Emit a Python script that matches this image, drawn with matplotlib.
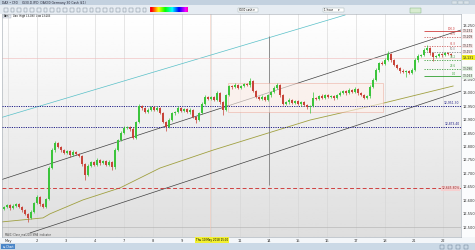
import matplotlib.pyplot as plt
from matplotlib.patches import Rectangle
import numpy as np

# hourly candles, Germany 30 cash
closes = [12575, 12582, 12571, 12578, 12586, 12575, 12563, 12549, 12534, 12556,
          12590, 12612, 12586, 12575, 12604, 12720, 12787, 12813, 12799, 12787,
          12776, 12784, 12769, 12780, 12772, 12765, 12735, 12694, 12728, 12743,
          12731, 12750, 12739, 12746, 12731, 12743, 12724, 12787, 12825, 12851,
          12869, 12873, 12866, 12832, 12892, 12951, 12944, 12929, 12937, 12948,
          12937, 12944, 12925, 12892, 12873, 12899, 12925, 12929, 12944, 12933,
          12940, 12929, 12937, 12910, 12899, 12925, 12959, 12985, 12978, 12985,
          12974, 13000, 12966, 12937, 12992, 13026, 13022, 13030, 13019, 13026,
          13034, 13030, 13045, 13007, 12985, 12978, 12985, 12974, 12992, 13004,
          13019, 13030, 12992, 12959, 12966, 12974, 12963, 12970, 12959, 12966,
          12955, 12948, 12951, 12981, 12978, 12989, 12981, 12992, 12985, 12989,
          12981, 12992, 13000, 13007, 13000, 13011, 13004, 13015, 13000, 12992,
          12981, 12989, 13022, 13048, 13086, 13112, 13108, 13123, 13145, 13123,
          13104, 13093, 13082, 13078, 13082, 13075, 13086, 13123, 13138, 13142,
          13160, 13168, 13149, 13134, 13138, 13145, 13142, 13149, 13145, 13142]
first_open = 12568
up_wick = [4, 5, 3, 6, 4, 5, 3, 4, 5, 6, 5, 6, 4, 3, 5, 8, 6, 7, 4, 5,
           4, 5, 3, 6, 4, 5, 3, 4, 6, 5, 4, 6, 3, 5, 4, 6, 5, 6, 5, 7,
           6, 5, 4, 7, 5, 8, 5, 4, 6, 5, 4, 6, 5, 3, 4, 6, 5, 4, 6, 5,
           4, 5, 6, 4, 3, 5, 6, 7, 5, 4, 5, 7, 4, 3, 6, 5, 4, 6, 5, 4,
           5, 4, 11, 4, 5, 4, 6, 5, 4, 5, 6, 7, 4, 5, 4, 6, 5, 4, 5, 4,
           4, 5, 4, 23, 5, 4, 6, 5, 4, 5, 4, 5, 6, 5, 4, 6, 5, 7, 4, 5,
           4, 5, 6, 7, 6, 5, 6, 7, 12, 5, 4, 5, 4, 6, 5, 4, 6, 7, 6, 5,
           6, 11, 5, 4, 5, 6, 4, 5, 4, 5]
dn_wick = [5, 4, 6, 3, 5, 4, 6, 5, 15, 4, 4, 5, 6, 5, 4, 5, 4, 6, 5, 6,
           5, 4, 6, 5, 4, 5, 8, 19, 5, 4, 5, 4, 6, 5, 4, 5, 11, 6, 5, 4,
           5, 4, 6, 5, 4, 5, 6, 5, 4, 5, 6, 5, 4, 5, 15, 4, 5, 6, 4, 5,
           4, 5, 6, 5, 11, 4, 5, 4, 6, 5, 4, 5, 6, 20, 4, 5, 6, 4, 5, 4,
           5, 4, 6, 5, 4, 6, 5, 4, 5, 6, 4, 5, 6, 5, 4, 6, 5, 4, 5, 6,
           5, 6, 23, 4, 5, 6, 4, 5, 4, 5, 6, 4, 5, 4, 6, 5, 4, 5, 6, 5,
           5, 4, 6, 5, 4, 6, 5, 4, 5, 6, 5, 4, 6, 5, 19, 4, 5, 4, 6, 5,
           4, 5, 6, 15, 5, 4, 6, 5, 4, 5]

day_pos = [1.3, 11, 20.7, 30.3, 40, 49.7, 59.3, 69, 78.7, 88.3, 98, 107.7, 117.3, 127, 136.7, 146.3]
day_labels = ['May', '2', '3', '4', '7', '8', '9', '10', '11', '14', '15', '16', '17', '18', '21', '22']
price_ticks = [12500, 12550, 12600, 12650, 12700, 12750, 12800, 12850, 12900, 12950, 13000, 13050, 13250]

# moving average
ma_idx = [-0.7, 13, 15.3, 26.3, 38.7, 52, 69.7, 102, 125.3, 149.7]
ma_val = [12519, 12534, 12549, 12601, 12646, 12720, 12787, 12899, 12959, 13026]
# trend channel + cyan line
chan_hi_idx, chan_hi = [-1.3, 152.3], [12675, 13235]
chan_lo_idx, chan_lo = [8.7, 152.3], [12478, 13007]
cyan_idx, cyan_val = [-1.3, 113.7], [12907, 13291]
# horizontal levels
support = [12951, 12873]
support_txt = ['12,951.30', '12,873.40']
stop_level = 12645
box_idx, box_val = [74.7, 126.3], [12929, 13037]
fib_levels = [13231, 13209, 13175, 13153, 13123, 13090, 13063]
fib_names = ['100.0', '78.6', '61.8', '50.0', '38.2', '23.6', '0.0']
fib_cols = ['#d04040', '#d06060', '#d06060', '#888888', '#40a040', '#40a040', '#30a030']
last_price = 13131

W, H = 475, 250
PX = (2, 14, 461, 237)  # plot area in pixels


def box(x0, y0, x1, y1):
    return [x0 / W, 1 - y1 / H, (x1 - x0) / W, (y1 - y0) / H]


fig = plt.figure(figsize=(4.75, 2.5), dpi=100)
bg = fig.add_axes([0, 0, 1, 1])
bg.set_xlim(0, W)
bg.set_ylim(H, 0)
bg.axis('off')

# window chrome
bg.add_patch(Rectangle((0, 0), W, 5, color='#c3d1df', lw=0))
bg.add_patch(Rectangle((0, 5), W, 9, color='#e6ecf2', lw=0))
bg.text(2, 2.6, 'DAX • CFD    IG30.D.IP.D  DAX30 Germany 30 Cash (£1)', fontsize=2.2, va='center', color='#223')
for k in range(3):
    bg.add_patch(Rectangle((452 + k * 6, 1), 5, 3, color='#d9e2ea', ec='#9aa', lw=0.2))
for x in np.arange(4, 146, 6.6):
    bg.add_patch(Rectangle((x, 7.5), 3.6, 4, fc='none', ec='#6f7f8f', lw=0.3))
grad = np.linspace(0, 1, 40).reshape(1, -1)
bg.imshow(grad, extent=[150, 188, 12, 7], cmap='gist_rainbow', aspect='auto', zorder=2)
bg.add_patch(Rectangle((238, 8), 20, 4, fc='white', ec='#9aa', lw=0.3))
bg.text(239, 10, 'IG30 cash ▾', fontsize=2, va='center')
bg.add_patch(Rectangle((323, 8), 21, 4, fc='white', ec='#9aa', lw=0.3))
bg.text(324, 10, '1 hour      ▾', fontsize=2, va='center')
bg.add_patch(Rectangle((410, 7.5), 11, 5, fc='#d8ecd0', ec='#7a7', lw=0.3))

# plot background gradient
g = np.linspace(1, 0.87, 100).reshape(-1, 1)
bg.imshow(g, extent=[PX[0], PX[2], PX[3], PX[1]], cmap='gray', vmin=0, vmax=1, aspect='auto', zorder=1)
bg.add_patch(Rectangle((PX[2], PX[1]), W - PX[2], PX[3] - PX[1], color='#fbfcfd', lw=0, zorder=1))
# date bar + status bar
bg.add_patch(Rectangle((0, 237), W, 6, color='#f3f6f9', lw=0, zorder=1))
bg.add_patch(Rectangle((0, 243), W, 7, color='#cbd9e6', lw=0, zorder=1))
bg.add_patch(Rectangle((1, 244), 14, 5, color='#4a86c8', lw=0, zorder=2))
bg.text(3, 246.5, '⇆ Chart', fontsize=2, color='white', va='center', zorder=3)
for x in np.arange(440, 472, 8):
    bg.add_patch(Rectangle((x, 244.5), 4, 4, fc='none', ec='#5a7088', lw=0.3, zorder=2))

ax = fig.add_axes(box(*PX))
ax.patch.set_alpha(0)
ax.set_xlim(-0.67, 152.33)
ax.set_ylim(12462.7, 13294.7)

for xp in day_pos:
    ax.axvline(xp, color='#d4d4d4', lw=0.4, zorder=1)
ax.axhline(12500, color='#b0b0b0', lw=0.4, zorder=1)
ax.axvline(68.7, color='#f2c8b8', lw=0.4, zorder=1)

# channel, cyan line, moving average
ax.plot(chan_hi_idx, chan_hi, color='#404040', lw=0.5, zorder=2)
ax.plot(chan_lo_idx, chan_lo, color='#404040', lw=0.5, zorder=2)
ax.plot(cyan_idx, cyan_val, color='#58c0c8', lw=0.5, zorder=2)
ax.plot(ma_idx, ma_val, color='#a0a040', lw=0.6, zorder=2)
ax.vlines(88.3, 12657, 13213, color='#808080', lw=0.6, zorder=2)

# range box
ax.add_patch(Rectangle((box_idx[0], box_val[0]), box_idx[1] - box_idx[0], box_val[1] - box_val[0],
                       fc='#fff0ea', ec='#eb9a88', lw=0.5, alpha=0.6, zorder=2))

# levels
for lv, t in zip(support, support_txt):
    ax.axhline(lv, color='#202088', lw=0.7, ls=(0, (1.2, 1.2)), zorder=3)
    ax.text(151.8, lv + 3, t, fontsize=2.2, color='#202088', ha='right', va='bottom', zorder=6)
ax.axhline(stop_level, color='#d04040', lw=0.7, ls=(0, (4, 2.5)), zorder=3)
ax.text(151.8, stop_level, '12,645.80%', fontsize=2.2, color='#903030', ha='right', va='center', zorder=6,
        bbox=dict(fc='#f6d0d0', ec='none', pad=0.3))
ax.axhline(last_price, color='#f0b8b8', lw=0.4, zorder=2)

for lv, nm, c in zip(fib_levels, fib_names, fib_cols):
    ls = '-' if nm in ('100.0', '0.0') else (0, (1.5, 1.5))
    ax.hlines(lv, 140, 152.33, color=c, lw=0.6, ls=ls, zorder=3)
    ax.text(150.5, lv + 2, nm, fontsize=2, color=c, ha='right', va='bottom', zorder=6)
    if nm != '38.2':
        ax.text(1.004, lv, f'{lv:,}', fontsize=2.1, color='#333', transform=ax.get_yaxis_transform(),
                va='center', ha='left', bbox=dict(fc='#f7e4e4' if c[1] in 'd8' else '#e2f2e2', ec='none', pad=0.3))
ax.text(1.004, last_price, f'{last_price:,}', fontsize=2.3, color='#222', transform=ax.get_yaxis_transform(),
        va='center', ha='left', zorder=7, bbox=dict(fc='#f4f020', ec='none', pad=0.4))

# candles
opens = [first_open] + closes[:-1]
for i, (o, c) in enumerate(zip(opens, closes)):
    col = '#3cc43c' if c >= o else '#c8443a'
    ax.vlines(i, min(o, c) - dn_wick[i], max(o, c) + up_wick[i], color=col, lw=0.5, zorder=4)
    ax.bar(i, max(abs(c - o), 1.5), bottom=min(o, c), width=0.72, color=col, lw=0, zorder=5)

ax.text(0.3, 12466, 'MA(1) Close_ma(200) SMA  indicator', fontsize=1.8, color='#444', va='bottom')
bg.add_patch(Rectangle((3, 14.5), 8, 3, fc='#e8eef4', ec='#889', lw=0.2, zorder=3))
bg.text(4, 16, 'Bars', fontsize=1.8, va='center', zorder=4)
bg.text(13, 16, 'Dax  High 13,093  Low 13,003', fontsize=1.8, va='center', zorder=4)

ax.yaxis.tick_right()
ax.set_yticks(price_ticks)
ax.set_yticklabels([f'{p:,}' for p in price_ticks])
ax.set_xticks(day_pos)
ax.set_xticklabels(['' if d == '10' else d for d in day_labels])
ax.tick_params(axis='y', length=0, pad=1.5, labelsize=2.6, labelcolor='#333')
ax.tick_params(axis='x', length=0, pad=1.2, labelsize=2.6, labelcolor='#333')
for s in ax.spines.values():
    s.set_color('#a0a8b0')
    s.set_linewidth(0.4)

# crosshair date box sits over the "10" tick
fig.text(196 / W, 1 - 240 / H, 'Thu 10 May 2018 15:00', fontsize=2, va='center',
         bbox=dict(fc='#f2f030', ec='none', pad=0.6))

fig.savefig('out.png', dpi=100)
